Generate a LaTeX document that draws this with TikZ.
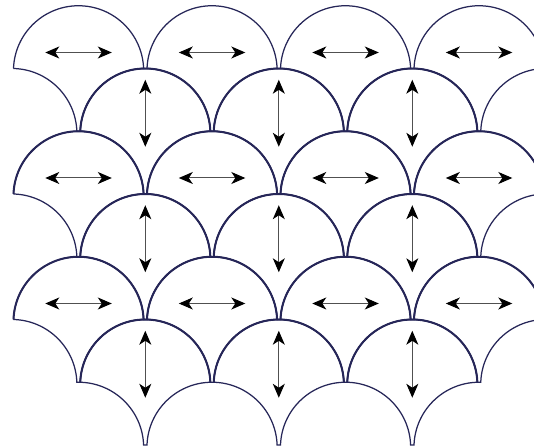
\documentclass[tikz,border=0pt]{standalone}
\usetikzlibrary{arrows.meta}
\definecolor{scalecol}{RGB}{38,38,88}
\definecolor{shaftcol}{RGB}{80,80,80}
\begin{document}
\begin{tikzpicture}[x=1pt,y=1pt,
  scaleline/.style={draw=scalecol,line width=1.25pt,line join=miter},
  sharedline/.style={draw=scalecol,line width=2pt},
  dirarrow/.style={draw=shaftcol,line width=1pt,
    arrows={Stealth[length=14pt,width=12pt,inset=4pt,color=black]-Stealth[length=14pt,width=12pt,inset=4pt,color=black]}}
]
\useasboundingbox (0,0) rectangle (534,446);
\clip (0,0) rectangle (534,446);
% geometry (1 unit = 1 px of the reference)
\pgfmathsetmacro{\P}{133.5}   % period
\pgfmathsetmacro{\g}{3.4}     % gap between neighbouring scales
\pgfmathsetmacro{\W}{\P-\g}   % width of one scale
\pgfmathsetmacro{\p}{62.75}   % half row pitch = arc height
\pgfmathsetmacro{\rr}{(\p*\p+(\W/2)*(\W/2))/(2*\p)}
\pgfmathsetmacro{\d}{\rr-\p}
\pgfmathsetmacro{\al}{asin(\d/\rr)}
\pgfmathsetmacro{\be}{asin((\g/2)/\rr)}
\pgfmathsetmacro{\xo}{13.5}
\pgfmathsetmacro{\yo}{377.5}
% A rows (horizontal arrows)
\foreach \j in {0,1,2}{
  \foreach \i in {0,...,3}{
    \pgfmathsetmacro{\lx}{\xo+\i*\P}
    \pgfmathsetmacro{\ly}{\yo-2*\j*\p}
    \coordinate (A\j\i) at (\lx,\ly);
    \draw[scaleline] (A\j\i)
      arc[start angle=180-\al, end angle=\al, radius=\rr pt]
      arc[start angle=90+\be, end angle=180-\al, radius=\rr pt]
      -- ++(-\g,0)
      arc[start angle=\al, end angle=90-\be, radius=\rr pt]
      -- cycle;
  }
}
% B rows (vertical arrows)
\foreach \j in {0,1,2}{
  \foreach \i in {0,1,2}{
    \pgfmathsetmacro{\lx}{\xo+\W/2+\g/2+\i*\P}
    \pgfmathsetmacro{\ly}{\yo-\p-2*\j*\p}
    \coordinate (B\j\i) at (\lx,\ly);
    \draw[scaleline] (B\j\i)
      arc[start angle=180-\al, end angle=\al, radius=\rr pt]
      arc[start angle=90+\be, end angle=180-\al, radius=\rr pt]
      -- ++(-\g,0)
      arc[start angle=\al, end angle=90-\be, radius=\rr pt]
      -- cycle;
    \draw[sharedline] (B\j\i) arc[start angle=180-\al, end angle=\al, radius=\rr pt];
  }
}
% shared top arcs of the lower A rows
\foreach \j in {1,2}{
  \foreach \i in {0,...,3}{
    \draw[sharedline] (A\j\i) arc[start angle=180-\al, end angle=\al, radius=\rr pt];
  }
}
% horizontal arrows
\foreach \j in {0,1,2}{
  \foreach \i in {0,...,3}{
    \pgfmathsetmacro{\cx}{\xo+\W/2+\i*\P}
    \pgfmathsetmacro{\cy}{\yo-2*\j*\p+16}
    \coordinate (hl\j\i) at (\cx-33.25,\cy);
    \coordinate (hr\j\i) at (\cx+33.25,\cy);
    \draw[dirarrow] (hl\j\i) -- (hr\j\i);
  }
}
% vertical arrows
\foreach \j in {0,1,2}{
  \foreach \i in {0,1,2}{
    \pgfmathsetmacro{\cx}{\xo+\W+\g/2+\i*\P}
    \pgfmathsetmacro{\cy}{\yo-\p-2*\j*\p+18}
    \coordinate (vt\j\i) at (\cx,\cy+33.5);
    \coordinate (vb\j\i) at (\cx,\cy-33.5);
    \draw[dirarrow] (vt\j\i) -- (vb\j\i);
  }
}
\end{tikzpicture}
\end{document}
